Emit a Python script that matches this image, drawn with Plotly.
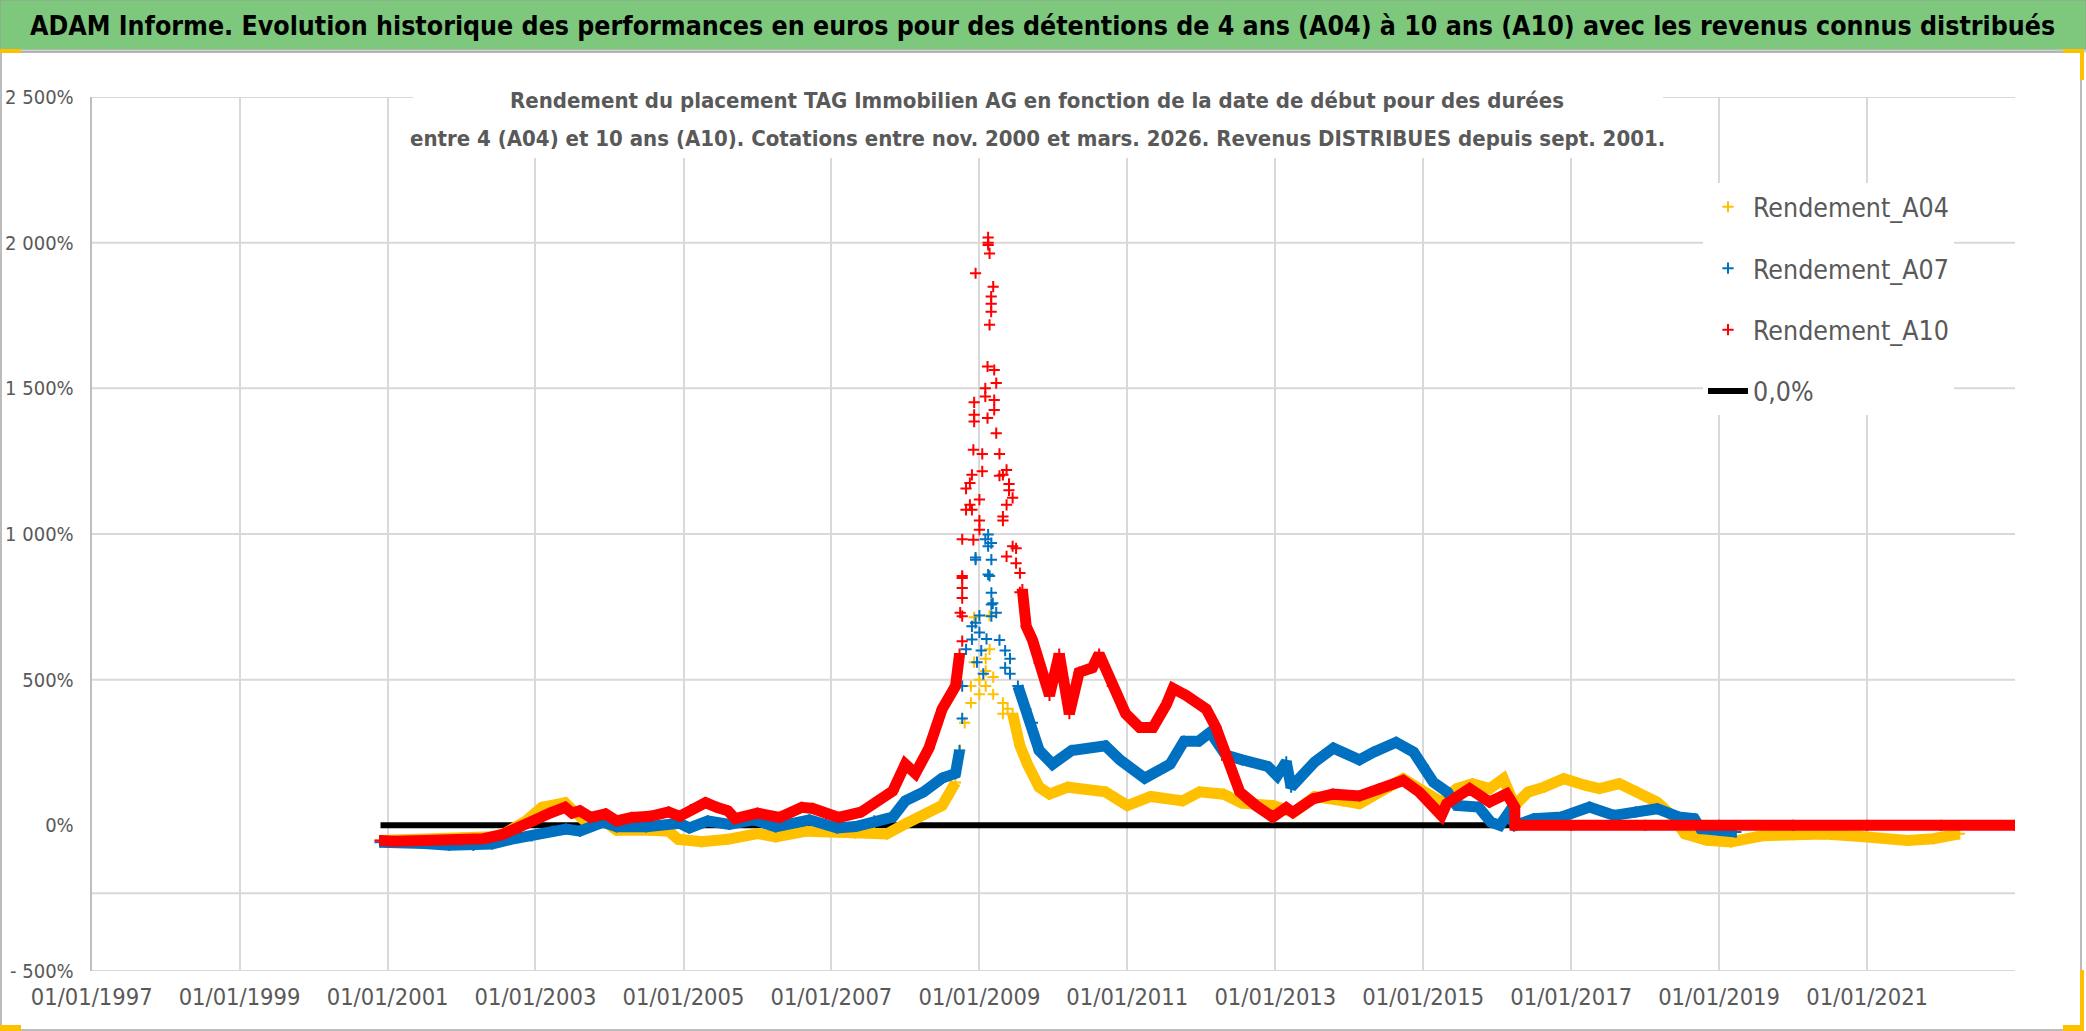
import plotly.graph_objects as go

# ---------------- data ----------------
a04_dates = ["2000-11-25", "2001-07-01", "2002-01-01", "2002-06-01", "2002-08-01", "2002-11-15",
             "2003-02-01", "2003-05-27", "2003-07-01", "2003-09-15", "2003-12-13", "2004-02-06",
             "2004-07-20", "2004-10-19", "2004-12-06", "2005-04-01", "2005-08-08", "2006-01-01",
             "2006-04-01", "2006-09-01", "2007-02-06", "2007-04-27", "2007-08-01", "2007-10-01",
             "2008-01-01", "2008-07-01", "2008-09-05", None,
             "2009-06-14", "2009-07-20", "2009-08-26", "2009-10-23", "2009-12-13", "2010-03-14",
             "2010-09-15", "2011-01-01", "2011-04-27", "2011-10-01", "2011-12-24", "2012-04-20",
             "2012-07-20", "2012-12-20", "2013-04-01", "2013-07-15", "2013-12-01", "2014-02-20",
             "2014-05-30", "2014-09-24", "2014-12-13", "2015-04-01", "2015-06-15", "2015-09-01",
             "2015-11-25", "2016-02-01", "2016-03-28", "2016-06-01", "2016-08-20", "2016-11-25",
             "2017-03-14", "2017-05-20", "2017-08-26", "2017-11-25", "2018-03-01", "2018-05-20",
             "2018-07-15", "2018-11-01", "2019-03-01", "2019-08-01", "2020-01-01", "2020-06-01",
             "2020-12-01", "2021-07-20", "2021-11-25", "2022-04-01"]
a04_values = [-52, -50, -44, -39, -28, 15,
              62, 78, 54, 7, 11, -17,
              -17, -20, -48, -56, -48, -28,
              -40, -20, -24, -27, -22, -30,
              5, 68, 147, None,
              383, 273, 210, 131, 107, 131,
              115, 68, 99, 84, 115, 107,
              76, 68, 44, 99, 84, 74,
              114, 160, 126, 80, 126, 143,
              126, 160, 68, 114, 131, 160,
              137, 126, 143, 114, 80, 29,
              -29, -51, -57, -36, -32, -30,
              -38, -52, -46, -29]
a04_peak_dates = ["2008-09-25", "2008-10-20", "2008-11-20", "2008-11-20", "2008-12-06", "2008-12-06",
                  "2009-01-01", "2009-01-01", "2009-02-01", "2009-02-01", "2009-02-01", "2009-02-20",
                  "2009-02-20", "2009-03-10", "2009-03-10", "2009-04-27", "2009-04-27", "2009-05-20"]
a04_peak_values = [257, 352, 478, 420, 714, 560,
                   500, 450, 478, 572, 530, 604,
                   720, 509, 450, 383, 420, 400]

a07_dates = ["2000-11-25", "2001-02-01", "2001-07-01", "2001-11-01", "2002-03-01", "2002-06-01",
             "2002-09-01", "2002-12-13", "2003-03-25", "2003-06-01", "2003-08-08", "2003-12-01",
             "2004-02-06", "2004-07-01", "2004-12-13", "2005-01-30", "2005-05-01", "2005-08-15",
             "2005-12-13", "2006-04-01", "2006-09-15", "2007-01-30", "2007-05-01", "2007-08-01",
             "2007-10-31", "2008-01-01", "2008-04-01", "2008-07-01", "2008-09-05", "2008-09-25", None,
             "2009-07-10", "2009-08-18", "2009-09-20", "2009-10-23", "2009-12-28", "2010-04-01",
             "2010-09-15", "2010-11-25", "2011-03-28", "2011-08-01", "2011-10-08", "2011-12-20",
             "2012-02-15", "2012-05-01", "2012-07-20", "2012-11-25", "2013-01-10", "2013-02-24",
             "2013-03-20", "2013-07-15", "2013-10-15", "2014-02-20", "2014-05-01", "2014-08-20",
             "2014-11-15", "2015-01-01", "2015-02-20", "2015-05-01", "2015-06-15", "2015-10-01",
             "2015-12-01", "2016-01-15", "2016-02-24", "2016-04-01", "2016-07-01", "2016-11-15",
             "2017-04-01", "2017-08-01", "2017-11-15", "2018-03-01", "2018-06-15", "2018-09-01",
             "2018-10-01", "2019-01-01", "2019-03-25"]
a07_values = [-58, -57, -62, -68, -69, -64,
              -48, -36, -20, -13, -20, 11,
              -5, -5, 7, -9, 15, 3,
              19, -5, 19, -9, -4, 15,
              28, 84, 115, 162, 178, 257, None,
              478, 399, 352, 257, 210, 257,
              273, 225, 162, 210, 289, 289,
              320, 241, 225, 202, 170, 218,
              131, 218, 265, 225, 251, 285,
              251, 205, 148, 114, 68, 63,
              11, 0, 40, 0, 23, 29,
              63, 34, 46, 57, 29, 23,
              -11, -17, -23]
a07_peak_dates = ["2008-10-08", "2008-10-08", "2008-10-27", "2008-11-25", "2008-11-25", "2008-12-13",
                  "2008-12-13", "2008-12-13", "2008-12-20", "2009-01-01", "2009-01-01", "2009-01-10",
                  "2009-01-20", "2009-01-30", "2009-02-05", "2009-02-13", "2009-02-13", "2009-02-13",
                  "2009-02-20", "2009-03-01", "2009-03-01", "2009-03-01", "2009-03-01", "2009-03-01",
                  "2009-03-08", "2009-03-25", "2009-04-10", "2009-05-08", "2009-05-08", "2009-06-01",
                  "2009-06-01"]
a07_peak_values = [367, 478, 604, 683, 638, 919,
                   912, 695, 560, 662, 720, 600,
                   520, 982, 640, 998, 958, 861,
                   856, 969, 912, 798, 758, 718,
                   762, 730, 636, 541, 600, 572,
                   520]

a10_dates = ["2000-11-25", "2001-02-01", "2001-07-01", "2002-01-01", "2002-04-20", "2002-07-20",
             "2002-10-19", "2003-01-01", "2003-03-14", "2003-05-27", "2003-07-01", "2003-08-08",
             "2003-10-01", "2003-12-13", "2004-02-06", "2004-04-20", "2004-07-20", "2004-10-19",
             "2004-12-13", "2005-02-06", "2005-04-20", "2005-06-14", "2005-08-08", "2005-09-13",
             "2006-01-01", "2006-04-20", "2006-08-08", "2006-10-01", "2006-12-06", "2007-02-06",
             "2007-05-27", "2007-08-01", "2007-10-31", "2008-01-01", "2008-02-20", "2008-04-27",
             "2008-07-01", "2008-09-05", "2008-09-25", None,
             "2009-08-01", "2009-08-20", "2009-09-20", "2009-10-23", "2009-12-13", "2010-01-30",
             "2010-02-17", "2010-03-21", "2010-05-08", "2010-07-13", "2010-08-15", "2010-10-19",
             "2010-12-24", "2011-03-03", "2011-05-08", "2011-07-13", "2011-08-15", "2011-10-19",
             "2012-01-26", "2012-03-14", "2012-05-05", "2012-07-09", "2012-09-27", "2012-12-20",
             "2013-02-24", "2013-03-28", "2013-07-06", "2013-10-12", "2014-02-20", "2014-05-30",
             "2014-09-24", "2014-12-13", "2015-02-20", "2015-04-01", "2015-04-27", "2015-08-18",
             "2015-11-25", "2016-02-17", "2016-03-28", "2016-03-29", "2017-01-01", "2018-01-01",
             "2019-01-01", "2020-01-01", "2021-01-01", "2022-01-01", "2023-01-01"]
a10_values = [-52, -55, -52, -50, -46, -32,
              -9, 19, 42, 62, 42, 50,
              27, 39, 15, 27, 31, 46,
              31, 54, 78, 62, 50, 23,
              42, 27, 62, 58, 39, 27,
              45, 75, 118, 210, 178, 265,
              399, 478, 588, None,
              809, 683, 636, 557, 446, 588,
              494, 383, 525, 541, 588, 478,
              383, 336, 336, 415, 470, 446,
              399, 336, 225, 115, 68, 28,
              60, 44, 91, 107, 101, 126,
              154, 114, 68, 34, 74, 126,
              80, 108, 63, 0, 0, 0,
              0, 0, 0, 0, 0]
a10_peak_dates = ["2008-09-28", "2008-10-08", "2008-10-08", "2008-10-08", "2008-10-08", "2008-10-08",
                  "2008-10-08", "2008-10-08", "2008-10-27", "2008-10-27", "2008-11-15", "2008-11-15",
                  "2008-11-25", "2008-11-25", "2008-12-02", "2008-12-02", "2008-12-06", "2008-12-06",
                  "2008-12-06", "2008-12-13", "2009-01-01", "2009-01-01", "2009-01-01", "2009-01-15",
                  "2009-01-15", "2009-01-30", "2009-01-30", "2009-02-10", "2009-02-10", "2009-02-13",
                  "2009-02-13", "2009-02-13", "2009-02-20", "2009-02-20", "2009-02-28", "2009-02-28",
                  "2009-02-28", "2009-03-10", "2009-03-15", "2009-03-15", "2009-03-15", "2009-03-25",
                  "2009-03-25", "2009-04-10", "2009-04-10", "2009-04-27", "2009-04-27", "2009-04-27",
                  "2009-05-15", "2009-05-15", "2009-05-15", "2009-05-27", "2009-05-27", "2009-06-14",
                  "2009-06-14", "2009-07-01", "2009-07-01", "2009-07-20", "2009-07-20"]
a10_peak_values = [730, 856, 982, 849, 815, 780,
                   718, 632, 1156, 1083, 1175, 1100,
                   1203, 1083, 1289, 980, 1452, 1409,
                   1386, 1895, 1046, 1118, 1015, 1275,
                   1215, 1500, 1472, 1575, 1398, 2018,
                   1992, 2000, 1963, 1718, 1815, 1790,
                   1763, 1849, 1563, 1460, 1426, 1518,
                   1346, 1275, 1200, 1203, 1046, 1060,
                   1220, 1100, 923, 1172, 1150, 1124,
                   958, 951, 900, 866, 800]

zero_dates = ["2000-11-27", "2023-01-01"]
zero_values = [0, 0]

x_tick_dates = ["1997-01-01", "1999-01-01", "2001-01-01", "2003-01-01", "2005-01-01", "2007-01-01",
                "2009-01-01", "2011-01-01", "2013-01-01", "2015-01-01", "2017-01-01", "2019-01-01",
                "2021-01-01"]
y_tick_values = [-500, 0, 500, 1000, 1500, 2000, 2500]
y_tick_labels = ["- 500%", "0%", "500%", "1 000%", "1 500%", "2 000%", "2 500%"]
y_grid_values = [-500, -233, 500, 1000, 1500, 2000, 2500]

TITLE = ("ADAM Informe. Evolution historique des performances en euros pour des détentions de 4 ans (A04) "
         "à 10 ans (A10) avec les revenus connus distribués")
SUBTITLE_1 = "Rendement du placement TAG Immobilien AG en fonction de la date de début pour des durées"
SUBTITLE_2 = ("entre 4 (A04) et 10 ans (A10). Cotations entre nov. 2000 et mars. 2026. "
              "Revenus DISTRIBUES depuis sept. 2001.")

# ---------------- styling ----------------
W, H = 2086, 1031
FONT = "DejaVu Sans Condensed, Liberation Sans Narrow, sans-serif"
GRAY_TXT = "#595959"
GRID = "#D9D9D9"
series = [
    ("Rendement_A04", "#FFC000", a04_dates, a04_values, a04_peak_dates, a04_peak_values, 1),
    ("Rendement_A07", "#0070C0", a07_dates, a07_values, a07_peak_dates, a07_peak_values, 2),
    ("Rendement_A10", "#FF0000", a10_dates, a10_values, a10_peak_dates, a10_peak_values, 3),
]

fig = go.Figure()

fig.add_trace(go.Scatter(
    x=zero_dates, y=zero_values, mode="lines", name="0,0%",
    line=dict(color="black", width=6), legendgroup="zero", legendrank=4,
))

for name, color, d, v, pd_, pv, rank in series:
    fig.add_trace(go.Scatter(
        x=d, y=v, mode="lines", line=dict(color=color, width=11),
        connectgaps=False, showlegend=False, legendgroup=name, hoverinfo="skip",
    ))
    fig.add_trace(go.Scatter(
        x=[a for a in d if a is not None] + pd_,
        y=[b for b in v if b is not None] + pv,
        mode="markers", name=name, legendgroup=name, legendrank=rank,
        marker=dict(symbol="cross-thin", size=8, color=color, line=dict(color=color, width=2)),
    ))

shapes = []
# horizontal gridlines
for gv in y_grid_values:
    shapes.append(dict(type="line", xref="x domain", yref="y", x0=0, x1=1, y0=gv, y1=gv,
                       line=dict(color=GRID, width=2), layer="below"))
# title bar
shapes.append(dict(type="rect", xref="paper", yref="paper", x0=0, x1=1, y0=1 - 50 / H, y1=1,
                   fillcolor="#7DC87D", line=dict(color="#8FA08F", width=1), layer="below"))
shapes.append(dict(type="line", xref="paper", yref="paper", x0=0, x1=1, y0=1 - 51 / H, y1=1 - 51 / H,
                   line=dict(color="#D0D0D0", width=3), layer="below"))
# chart border
shapes.append(dict(type="rect", xref="paper", yref="paper", x0=1 / W, x1=2081 / W, y0=1 / H, y1=1 - 52 / H,
                   line=dict(color="#A6A6A6", width=1.5), layer="below"))
# white box behind the chart title (hides gridlines)
shapes.append(dict(type="rect", xref="paper", yref="paper", x0=413 / W, x1=1663 / W,
                   y0=1 - 158 / H, y1=1 - 70 / H, fillcolor="white", line=dict(width=0), layer="above"))
# selection handles (yellow)
for (x0, x1, y0, y1) in [(0, 21, 49, 53), (2063, 2084, 49, 53), (2080, 2084, 49, 80),
                         (0, 21, 1025, 1031), (2063, 2084, 1025, 1031), (2080, 2084, 970, 1031)]:
    shapes.append(dict(type="rect", xref="paper", yref="paper", x0=x0 / W, x1=x1 / W,
                       y0=1 - y1 / H, y1=1 - y0 / H, fillcolor="#FFC000", line=dict(width=0),
                       layer="above"))

fig.update_layout(
    width=W, height=H, autosize=False,
    margin=dict(l=0, r=0, t=0, b=0, autoexpand=False),
    paper_bgcolor="white", plot_bgcolor="white",
    font=dict(family=FONT, color=GRAY_TXT),
    shapes=shapes,
    showlegend=True,
    legend=dict(x=1703 / W, y=1 - 183 / H, xanchor="left", yanchor="top",
                bgcolor="white", borderwidth=0, traceorder="grouped", tracegroupgap=24,
                font=dict(family=FONT, size=26.5, color=GRAY_TXT), itemwidth=40),
    annotations=[
        dict(text="<b>" + TITLE + "</b>", xref="paper", yref="paper", x=1042 / W, y=1 - 25 / H,
             xanchor="center", yanchor="middle", showarrow=False,
             font=dict(family=FONT, size=26.5, color="black")),
        dict(text="<b>" + SUBTITLE_1 + "</b>", xref="paper", yref="paper", x=1037 / W, y=1 - 100 / H,
             xanchor="center", yanchor="middle", showarrow=False,
             font=dict(family=FONT, size=22, color=GRAY_TXT)),
        dict(text="<b>" + SUBTITLE_2 + "</b>", xref="paper", yref="paper", x=1037 / W, y=1 - 138 / H,
             xanchor="center", yanchor="middle", showarrow=False,
             font=dict(family=FONT, size=22, color=GRAY_TXT)),
    ],
    xaxis=dict(
        type="date", domain=[91.7 / W, 2015 / W], range=["1997-01-01", "2023-01-01"],
        tickvals=x_tick_dates, tickformat="%d/%m/%Y", automargin=False,
        showgrid=True, gridcolor=GRID, gridwidth=2,
        showline=False, zeroline=False, ticks="",
        tickfont=dict(family=FONT, size=23.5, color=GRAY_TXT), ticklabelstandoff=9,
    ),
    yaxis=dict(
        domain=[1 - 971 / H, 1 - 97 / H], range=[-500, 2500], automargin=False,
        tickvals=y_tick_values, ticktext=y_tick_labels,
        showgrid=False, zeroline=False, showline=True, linecolor="#BFBFBF", linewidth=2,
        ticks="", tickfont=dict(family=FONT, size=20, color=GRAY_TXT), ticklabelstandoff=12,
    ),
)

fig.write_html("out.html", config={"displayModeBar": False},
               post_script="document.body.style.margin='0';document.body.style.overflow='hidden';")
